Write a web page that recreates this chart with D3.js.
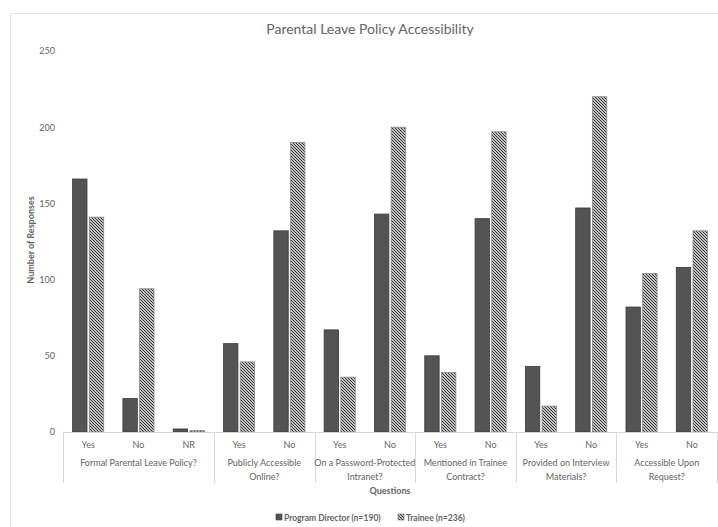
<!DOCTYPE html>
<html>
<head>
<meta charset="utf-8">
<script src="https://cdn.jsdelivr.net/npm/d3@7"></script>
<style>
  html, body { margin: 0; padding: 0; background: #fff; }
  svg { display: block; }
  text { font-family: Lato, "Open Sans", sans-serif; fill: #646464; }
</style>
</head>
<body>
<svg id="chart" width="718" height="527"></svg>
<script>
// Question groups and their answer options
const groups = [
  "Formal Parental Leave Policy?",
  "Publicly Accessible Online?",
  "On a Password-Protected Intranet?",
  "Mentioned in Trainee Contract?",
  "Provided on Interview Materials?",
  "Accessible Upon Request?"
];
const groupLines = [
  ["Formal Parental Leave Policy?"],
  ["Publicly Accessible", "Online?"],
  ["On a Password-Protected", "Intranet?"],
  ["Mentioned in Trainee", "Contract?"],
  ["Provided on Interview", "Materials?"],
  ["Accessible Upon", "Request?"]
];
const answers = [
  ["Yes", "No", "NR"],
  ["Yes", "No"],
  ["Yes", "No"],
  ["Yes", "No"],
  ["Yes", "No"],
  ["Yes", "No"]
];
const seriesNames = ["Program Director (n=190)", "Trainee (n=236)"];
const programDirector = [166, 22, 2, 58, 132, 67, 143, 50, 140, 43, 147, 82, 108];
const trainee = [141, 94, 1, 46, 190, 36, 200, 39, 197, 17, 220, 104, 132];
const yTicks = [0, 50, 100, 150, 200, 250];

const svg = d3.select("#chart");

// Flatten into category slots
const cats = [];
answers.forEach((list, gi) => list.forEach(a => cats.push({ g: gi, a, key: gi + "|" + a })));
cats.forEach((c, i) => { c.pd = programDirector[i]; c.tr = trainee[i]; });

const plotLeft = 63, plotRight = 717, plotTop = 51, plotBase = 432;
const x0 = d3.scaleBand().domain(cats.map(c => c.key)).range([plotLeft, plotRight]).padding(0);
const x1 = d3.scaleBand().domain(seriesNames).range([0, x0.bandwidth()])
  .paddingInner(0.138).paddingOuter(0.575);
const y = d3.scaleLinear().domain([0, 250]).range([plotBase, plotTop]);

// Hatch pattern for trainee bars
const defs = svg.append("defs");
const pat = defs.append("pattern").attr("id", "hatch")
  .attr("patternUnits", "userSpaceOnUse").attr("width", 3).attr("height", 3);
pat.append("rect").attr("width", 3).attr("height", 3).attr("fill", "#fff");
pat.append("path").attr("d", "M-1,-1 L4,4 M-1,2 L1,4 M2,-1 L4,1")
  .attr("stroke", "#2b2b2b").attr("stroke-width", 1.1);

// Outer chart frame
svg.append("rect").attr("x", 10.5).attr("y", 13.5).attr("width", 720).attr("height", 530)
  .attr("fill", "none").attr("stroke", "#e3e3e3");

// Title
svg.append("text").attr("x", 370).attr("y", 34).attr("text-anchor", "middle")
  .style("font-size", "14px").text("Parental Leave Policy Accessibility");

// Y axis tick labels
const yAxis = d3.axisLeft(y).tickValues(yTicks).tickSize(0).tickPadding(0);
const yg = svg.append("g").attr("transform", "translate(55,0)").call(yAxis);
yg.select(".domain").remove();
yg.selectAll("text").style("font-size", "9px").style("font-family", "Lato, sans-serif").attr("fill", "#858585");

// Y axis title
svg.append("text").attr("transform", "translate(34,240) rotate(-90)")
  .attr("text-anchor", "middle").style("font-size", "9px").style("font-weight", "bold")
  .text("Number of Responses");

// Bars
const bars = svg.append("g");
cats.forEach(c => {
  const gx = x0(c.key);
  bars.append("rect")
    .attr("x", gx + x1(seriesNames[0])).attr("width", x1.bandwidth())
    .attr("y", y(c.pd)).attr("height", plotBase - y(c.pd))
    .attr("fill", "#545454").attr("stroke", "#3a3a3a").attr("stroke-width", 0.8);
  bars.append("rect")
    .attr("x", gx + x1(seriesNames[1])).attr("width", x1.bandwidth())
    .attr("y", y(c.tr)).attr("height", plotBase - y(c.tr))
    .attr("fill", "url(#hatch)").attr("stroke", "#8a8a8a").attr("stroke-width", 0.8);
});

// X axis baseline and group separators
svg.append("line").attr("x1", plotLeft).attr("x2", plotRight).attr("y1", plotBase + 0.5).attr("y2", plotBase + 0.5)
  .attr("stroke", "#d9d9d9");
const bounds = [plotLeft];
let idx = 0;
answers.forEach(list => { idx += list.length; bounds.push(x0(cats[idx - 1].key) + x0.bandwidth()); });
svg.selectAll(".sep").data(bounds).enter().append("line")
  .attr("x1", d => Math.round(d) + 0.5).attr("x2", d => Math.round(d) + 0.5)
  .attr("y1", plotBase).attr("y2", 483).attr("stroke", "#d9d9d9");

// Answer labels
svg.selectAll(".ans").data(cats).enter().append("text")
  .attr("x", c => x0(c.key) + x0.bandwidth() / 2).attr("y", 448)
  .attr("text-anchor", "middle").style("font-size", "9px").text(c => c.a);

// Question labels
groupLines.forEach((lines, gi) => {
  const cx = (bounds[gi] + bounds[gi + 1]) / 2;
  const t = svg.append("text").attr("text-anchor", "middle").style("font-size", "9px");
  lines.forEach((ln, li) => {
    t.append("tspan").attr("x", cx).attr("y", 466 + li * 14).text(ln);
  });
});

// X axis title
svg.append("text").attr("x", (plotLeft + plotRight) / 2).attr("y", 494).attr("text-anchor", "middle")
  .style("font-size", "9px").style("font-weight", "bold").text("Questions");

// Legend
const legend = svg.append("g");
const items = [
  { name: seriesNames[0], x: 276, fill: "#545454", stroke: "#3a3a3a" },
  { name: seriesNames[1], x: 398, fill: "url(#hatch)", stroke: "#6a6a6a" }
];
items.forEach(it => {
  legend.append("rect").attr("x", it.x).attr("y", 514).attr("width", 6).attr("height", 6)
    .attr("fill", it.fill).attr("stroke", it.stroke).attr("stroke-width", 0.6);
  legend.append("text").attr("x", it.x + 8).attr("y", 520.5).style("font-size", "8.5px")
    .style("font-weight", "bold").text(it.name);
});
</script>
</body>
</html>
